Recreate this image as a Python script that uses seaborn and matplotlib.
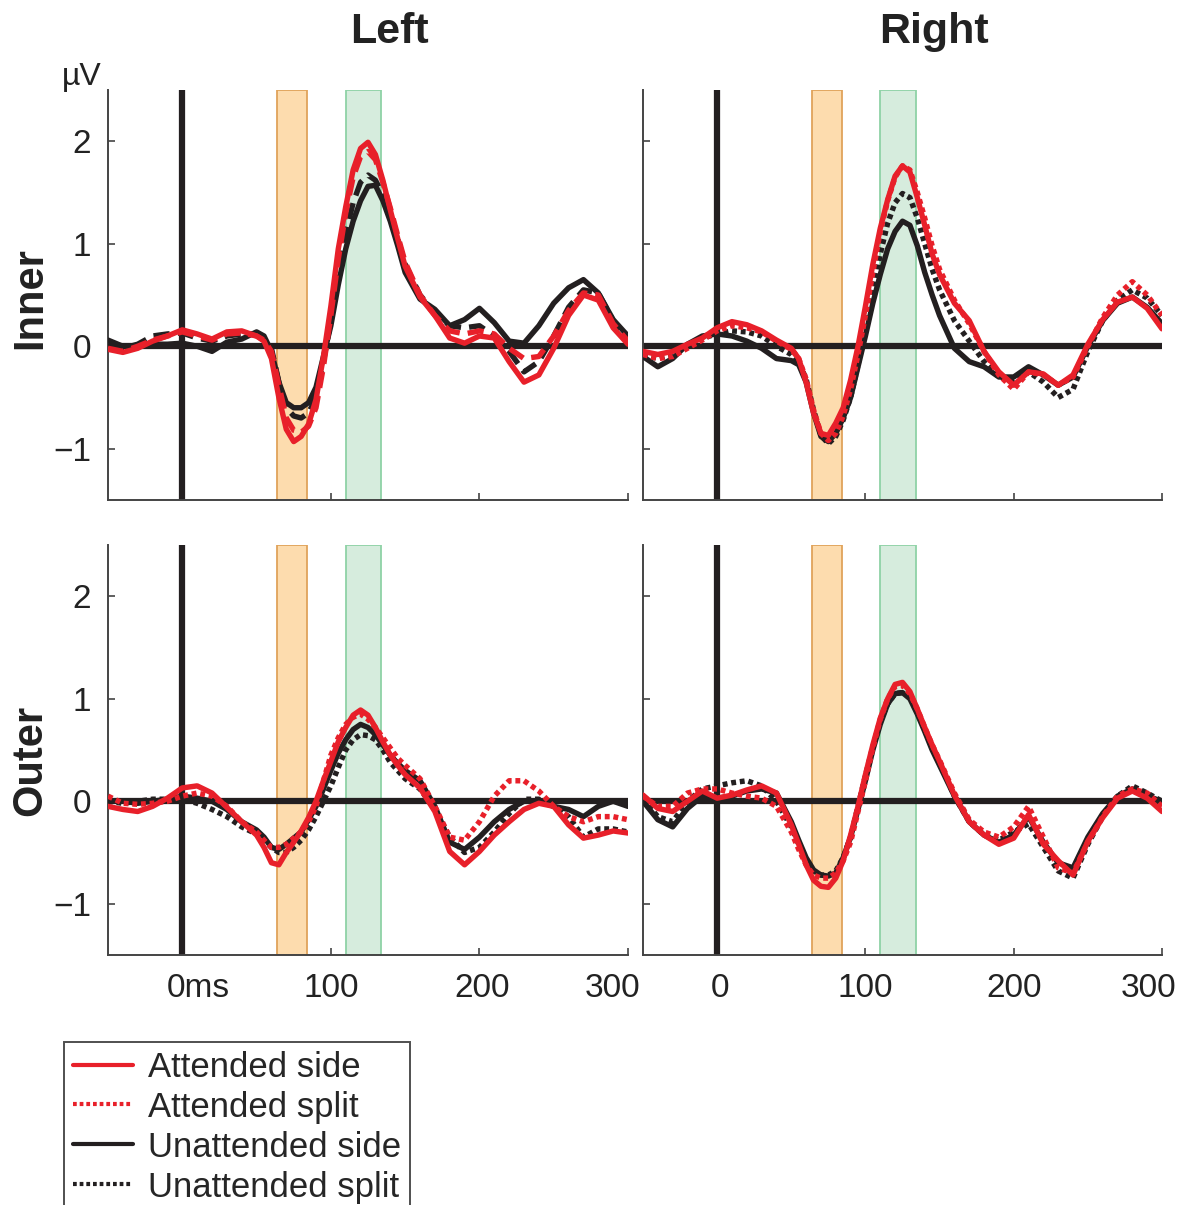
import numpy as np
import pandas as pd
import matplotlib
matplotlib.use("Agg")
import matplotlib.pyplot as plt
from matplotlib.lines import Line2D
from matplotlib.transforms import ScaledTranslation
import seaborn as sns

sns.set_style("ticks")
plt.rcParams['font.family'] = ['Liberation Sans', 'DejaVu Sans']

# time axis (ms), denser around the main components
time_ms = [-50, -40, -30, -20, -10, 0, 10, 20, 30, 40, 50,
           55, 60, 65, 70, 75, 80, 85, 90, 95, 100, 105, 110, 115, 120, 125, 130, 135, 140, 145, 150,
           160, 170, 180, 190, 200, 210, 220, 230, 240, 250, 260, 270, 280, 290, 300]

# analysis windows (ms)
early_window = (64, 84)
late_window = (110, 134)

# --- Inner / Left ---
inner_left_att_side = [-0.03, -0.06, -0.02, 0.05, 0.1, 0.16, 0.12, 0.07, 0.14, 0.15, 0.1,
                       0.05, -0.12, -0.5, -0.81, -0.93, -0.88, -0.76, -0.52, -0.1, 0.39, 0.95, 1.36, 1.72, 1.93, 1.99, 1.87, 1.62, 1.33, 1.05, 0.78,
                       0.48, 0.3, 0.08, 0.03, 0.1, 0.08, -0.15, -0.35, -0.28, -0.02, 0.3, 0.5, 0.45, 0.18, 0.02]
inner_left_att_split = [-0.02, -0.05, 0.0, 0.06, 0.1, 0.14, 0.1, 0.06, 0.12, 0.13, 0.1,
                        0.06, -0.05, -0.38, -0.7, -0.82, -0.84, -0.78, -0.6, -0.2, 0.3, 0.85, 1.3, 1.65, 1.85, 1.9, 1.82, 1.6, 1.35, 1.08, 0.82,
                        0.5, 0.3, 0.15, 0.12, 0.15, 0.12, -0.02, -0.12, -0.1, 0.1, 0.35, 0.52, 0.5, 0.22, 0.05]
inner_left_unatt_side = [0.06, 0.0, 0.0, 0.02, 0.02, 0.03, 0.0, -0.05, 0.04, 0.07, 0.14,
                         0.1, -0.05, -0.35, -0.55, -0.6, -0.6, -0.55, -0.4, -0.1, 0.2, 0.6, 0.95, 1.22, 1.42, 1.56, 1.57, 1.42, 1.22, 0.98, 0.72,
                         0.46, 0.36, 0.2, 0.26, 0.37, 0.23, 0.05, 0.03, 0.2, 0.42, 0.57, 0.65, 0.52, 0.26, 0.1]
inner_left_unatt_split = [0.02, -0.02, 0.02, 0.1, 0.12, 0.13, 0.08, 0.05, 0.1, 0.12, 0.12,
                          0.08, -0.02, -0.35, -0.6, -0.68, -0.7, -0.65, -0.5, -0.15, 0.25, 0.7, 1.1, 1.4, 1.6, 1.67, 1.62, 1.48, 1.28, 1.05, 0.8,
                          0.5, 0.33, 0.2, 0.18, 0.2, 0.1, -0.05, -0.25, -0.15, 0.1, 0.38, 0.55, 0.52, 0.25, 0.05]

# --- Inner / Right ---
inner_right_att_side = [-0.05, -0.08, -0.05, 0.02, 0.08, 0.18, 0.24, 0.21, 0.15, 0.06, -0.02,
                        -0.12, -0.35, -0.65, -0.85, -0.87, -0.75, -0.6, -0.33, 0.0, 0.39, 0.8, 1.15, 1.43, 1.66, 1.76, 1.7, 1.45, 1.18, 0.9, 0.7,
                        0.42, 0.25, -0.05, -0.25, -0.38, -0.25, -0.27, -0.38, -0.28, 0.02, 0.26, 0.43, 0.48, 0.37, 0.17]
inner_right_att_split = [-0.08, -0.12, -0.1, -0.02, 0.06, 0.15, 0.2, 0.18, 0.14, 0.05, -0.03,
                         -0.12, -0.32, -0.62, -0.85, -0.92, -0.85, -0.68, -0.42, -0.08, 0.3, 0.72, 1.12, 1.42, 1.65, 1.76, 1.72, 1.5, 1.25, 0.98, 0.75,
                         0.45, 0.22, -0.05, -0.28, -0.42, -0.25, -0.28, -0.38, -0.3, 0.0, 0.28, 0.5, 0.63, 0.5, 0.3]
inner_right_unatt_side = [-0.1, -0.2, -0.12, 0.02, 0.1, 0.12, 0.1, 0.05, -0.02, -0.12, -0.14,
                          -0.18, -0.35, -0.65, -0.88, -0.93, -0.85, -0.7, -0.5, -0.2, 0.1, 0.42, 0.7, 0.95, 1.12, 1.22, 1.18, 0.98, 0.72, 0.5, 0.3,
                          -0.02, -0.15, -0.2, -0.3, -0.3, -0.2, -0.28, -0.38, -0.3, 0.0, 0.25, 0.42, 0.48, 0.38, 0.22]
inner_right_unatt_split = [-0.08, -0.12, -0.08, 0.0, 0.08, 0.12, 0.15, 0.14, 0.1, 0.0, -0.08,
                           -0.15, -0.32, -0.62, -0.87, -0.95, -0.88, -0.72, -0.5, -0.18, 0.15, 0.52, 0.9, 1.2, 1.4, 1.49, 1.45, 1.25, 1.0, 0.75, 0.55,
                           0.25, 0.05, -0.15, -0.3, -0.33, -0.25, -0.35, -0.5, -0.42, -0.05, 0.25, 0.45, 0.55, 0.47, 0.3]

# --- Outer / Left ---
outer_left_att_side = [-0.05, -0.08, -0.1, -0.05, 0.03, 0.13, 0.15, 0.08, -0.06, -0.2, -0.33,
                       -0.45, -0.6, -0.62, -0.5, -0.4, -0.29, -0.16, 0.0, 0.2, 0.39, 0.58, 0.72, 0.84, 0.89, 0.84, 0.72, 0.58, 0.45, 0.35, 0.26,
                       0.13, -0.1, -0.49, -0.62, -0.49, -0.33, -0.2, -0.08, -0.02, -0.05, -0.23, -0.36, -0.33, -0.29, -0.31]
outer_left_att_split = [0.05, -0.02, -0.03, -0.02, 0.0, 0.05, 0.08, 0.05, -0.05, -0.2, -0.3,
                        -0.38, -0.45, -0.45, -0.42, -0.36, -0.3, -0.2, -0.05, 0.2, 0.45, 0.62, 0.75, 0.82, 0.85, 0.8, 0.72, 0.62, 0.52, 0.42, 0.35,
                        0.22, -0.05, -0.35, -0.38, -0.2, 0.05, 0.2, 0.2, 0.1, -0.05, -0.15, -0.2, -0.15, -0.15, -0.18]
outer_left_unatt_side = [0.0, 0.0, -0.02, 0.0, 0.02, 0.05, 0.03, 0.0, -0.08, -0.2, -0.28,
                         -0.35, -0.45, -0.47, -0.42, -0.36, -0.3, -0.18, -0.05, 0.12, 0.3, 0.47, 0.6, 0.7, 0.75, 0.72, 0.65, 0.55, 0.45, 0.37, 0.3,
                         0.2, -0.05, -0.4, -0.47, -0.35, -0.2, -0.08, 0.0, 0.0, -0.05, -0.08, -0.15, -0.05, 0.0, -0.05]
outer_left_unatt_split = [0.0, -0.02, 0.0, 0.02, 0.02, 0.02, -0.02, -0.08, -0.15, -0.25, -0.32,
                          -0.38, -0.45, -0.5, -0.5, -0.45, -0.38, -0.28, -0.15, 0.0, 0.15, 0.33, 0.5, 0.6, 0.65, 0.64, 0.6, 0.5, 0.38, 0.3, 0.22,
                          0.12, -0.08, -0.35, -0.5, -0.45, -0.3, -0.12, 0.02, 0.02, -0.05, -0.15, -0.35, -0.27, -0.27, -0.3]

# --- Outer / Right ---
outer_right_att_side = [0.06, -0.07, -0.1, 0.0, 0.1, 0.03, 0.06, 0.11, 0.15, 0.08, -0.23,
                        -0.42, -0.62, -0.77, -0.83, -0.84, -0.75, -0.58, -0.33, -0.05, 0.26, 0.55, 0.81, 1.0, 1.14, 1.16, 1.07, 0.9, 0.72, 0.55, 0.39,
                        0.06, -0.2, -0.33, -0.42, -0.36, -0.13, -0.42, -0.58, -0.72, -0.39, -0.16, 0.03, 0.1, 0.03, -0.1]
outer_right_att_split = [0.05, -0.05, -0.05, 0.08, 0.12, 0.12, 0.08, 0.05, 0.03, -0.05, -0.3,
                         -0.47, -0.62, -0.72, -0.75, -0.75, -0.7, -0.58, -0.4, -0.1, 0.2, 0.52, 0.8, 1.0, 1.12, 1.13, 1.05, 0.9, 0.72, 0.55, 0.4,
                         0.08, -0.18, -0.3, -0.35, -0.25, -0.05, -0.35, -0.65, -0.7, -0.4, -0.15, 0.05, 0.12, 0.08, -0.05]
outer_right_unatt_side = [0.0, -0.18, -0.25, -0.07, 0.05, 0.03, 0.05, 0.1, 0.12, 0.08, -0.2,
                          -0.38, -0.55, -0.67, -0.72, -0.73, -0.7, -0.55, -0.35, -0.08, 0.2, 0.5, 0.75, 0.95, 1.05, 1.06, 1.0, 0.85, 0.68, 0.5, 0.35,
                          0.05, -0.2, -0.33, -0.4, -0.33, -0.15, -0.4, -0.6, -0.65, -0.35, -0.12, 0.05, 0.12, 0.05, 0.0]
outer_right_unatt_split = [0.02, -0.15, -0.2, 0.0, 0.12, 0.15, 0.18, 0.2, 0.15, 0.0, -0.25,
                           -0.42, -0.58, -0.68, -0.72, -0.72, -0.68, -0.55, -0.35, -0.05, 0.25, 0.53, 0.78, 0.95, 1.05, 1.06, 1.02, 0.88, 0.7, 0.52, 0.38,
                           0.05, -0.2, -0.33, -0.38, -0.3, -0.22, -0.45, -0.68, -0.75, -0.42, -0.15, 0.05, 0.15, 0.08, 0.0]

condition_labels = ['Attended side', 'Attended split', 'Unattended side', 'Unattended split']

panels = {
    ('Inner', 'Left'): [inner_left_att_side, inner_left_att_split, inner_left_unatt_side, inner_left_unatt_split],
    ('Inner', 'Right'): [inner_right_att_side, inner_right_att_split, inner_right_unatt_side, inner_right_unatt_split],
    ('Outer', 'Left'): [outer_left_att_side, outer_left_att_split, outer_left_unatt_side, outer_left_unatt_split],
    ('Outer', 'Right'): [outer_right_att_side, outer_right_att_split, outer_right_unatt_side, outer_right_unatt_split],
}

RED = '#e8202a'
BLACK = '#231f20'
colors = [RED, RED, BLACK, BLACK]
dotted = (0, (0.9, 0.7))
dashed = (0, (3.0, 1.5))

fig = plt.figure(figsize=(11.98, 12.05), dpi=100)
W, H = 1198, 1205
# axes boxes in pixels: left, top, right, bottom
boxes = {
    ('Inner', 'Left'): (108, 90, 628, 500),
    ('Inner', 'Right'): (643, 90, 1162, 500),
    ('Outer', 'Left'): (108, 545, 628, 955),
    ('Outer', 'Right'): (643, 545, 1162, 955),
}
# small horizontal nudges (px) of the bottom tick labels, as in the original
label_shift = {'Left': [16, 0, 3, -16], 'Right': [3, 0, 0, -13]}

for key, series in panels.items():
    l, t, r, b = boxes[key]
    ax = fig.add_axes([l / W, 1 - b / H, (r - l) / W, (b - t) / H])
    row, col = key

    ax.axvspan(*early_window, facecolor='#fddcae', edgecolor='#e0a35a', lw=1.3, zorder=1)
    ax.axvspan(*late_window, facecolor='#d6ecdd', edgecolor='#8fd2a6', lw=1.3, zorder=1)
    ax.axhline(0, color=BLACK, lw=4.5, zorder=2)
    ax.axvline(0, color=BLACK, lw=4.5, zorder=2)

    # dashed style in the inner/left panel, dotted elsewhere
    split_style = dashed if key == ('Inner', 'Left') else dotted
    styles = ['-', split_style, '-', split_style]
    for i in [3, 2, 1, 0]:
        df = pd.DataFrame({'time': time_ms, 'uv': series[i]})
        sns.lineplot(data=df, x='time', y='uv', ax=ax, color=colors[i],
                     linestyle=styles[i], lw=3.9, zorder=3 + (3 - i))
    for ln in ax.get_lines():
        ln.set_solid_joinstyle('round')

    ax.set_xlim(-50, 300)
    ax.set_ylim(-1.5, 2.5)
    ax.set_xlabel('')
    ax.set_ylabel('')
    for s in ['top', 'right']:
        ax.spines[s].set_visible(False)
    for s in ['left', 'bottom']:
        ax.spines[s].set_color('#444444')
        ax.spines[s].set_linewidth(1.4)
    ax.set_yticks([-1, 0, 1, 2])
    ax.set_xticks([0, 100, 200, 300])
    ax.tick_params(direction='in', length=5, width=1.2, color='#444444',
                   labelsize=24, labelcolor='#222222')
    ax.tick_params(axis='x', pad=13)
    ax.tick_params(axis='y', pad=12)
    if col == 'Left':
        ax.set_yticklabels(['\u22121', '0', '1', '2'])
    else:
        ax.set_yticklabels([])
    if row == 'Outer':
        ax.set_xticklabels(['0ms' if col == 'Left' else '0', '100', '200', '300'])
        for lab, dx in zip(ax.get_xticklabels(), label_shift[col]):
            lab.set_transform(lab.get_transform() + ScaledTranslation(dx / 100, 0, fig.dpi_scale_trans))
    else:
        ax.set_xticklabels([])

# column and row titles
fig.text(389 / W, 1 - 32 / H, 'Left', ha='center', va='center', fontsize=31, fontweight='bold', color='#222222')
fig.text(934 / W, 1 - 32 / H, 'Right', ha='center', va='center', fontsize=31, fontweight='bold', color='#222222')
fig.text(30 / W, 1 - 298 / H, 'Inner', ha='center', va='center', rotation=90, fontsize=30, fontweight='bold', color='#222222')
fig.text(30 / W, 1 - 760 / H, 'Outer', ha='center', va='center', rotation=90, fontsize=30, fontweight='bold', color='#222222')
fig.text(82 / W, 1 - 77 / H, '\u00b5V', ha='center', va='center', fontsize=23, color='#222222')

handles = [Line2D([], [], color=RED, lw=3, ls='-'),
           Line2D([], [], color=RED, lw=3, ls=(0, (0.9, 0.7))),
           Line2D([], [], color=BLACK, lw=3, ls='-'),
           Line2D([], [], color=BLACK, lw=3, ls=(0, (0.9, 0.7)))]
leg = fig.legend(handles, condition_labels, loc='upper left', bbox_to_anchor=(64 / W, 1 - 1042 / H),
                 borderaxespad=0, fontsize=25, frameon=True, fancybox=False, edgecolor='#222222',
                 handlelength=1.75, handletextpad=0.42, labelspacing=0.2, borderpad=0.25)
leg.get_frame().set_linewidth(1.4)

fig.savefig('out.png', dpi=100)
